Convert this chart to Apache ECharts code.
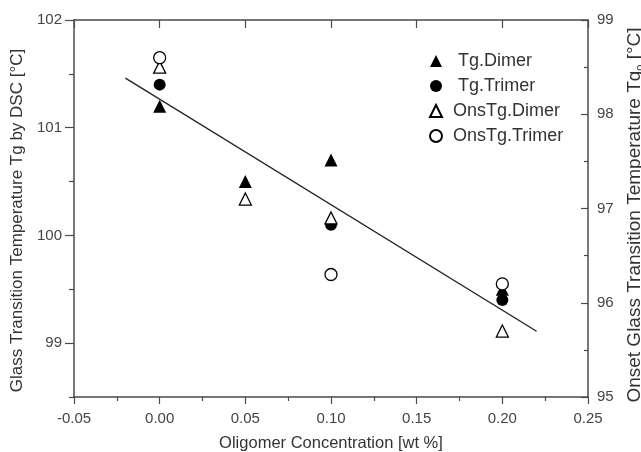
<!DOCTYPE html>
<html>
<head>
<meta charset="utf-8">
<script src="https://cdn.jsdelivr.net/npm/echarts@6/dist/echarts.min.js"></script>
<style>
  html, body { margin: 0; padding: 0; background: #fff; }
  #chart { width: 641px; height: 452px; }
</style>
</head>
<body>
<div id="chart"></div>
<script>
// concentrations [wt %]
const xTg = [0.00, 0.05, 0.10, 0.20];
const xTgTrimer = [0.00, 0.10, 0.20];
// Tg by DSC (left axis)
const tgDimer = [101.2, 100.5, 100.7, 99.5];
const tgTrimer = [101.4, 100.1, 99.4];
// onset Tg (right axis)
const onsTgDimer = [98.5, 97.1, 96.9, 95.7];
const onsTgTrimer = [98.6, 96.3, 96.2];
// linear fit, left axis
const fitLine = [[-0.02, 101.46], [0.22, 99.11]];

const leftTicks = [99, 100, 101, 102];
const leftMinor = [98.5, 99.5, 100.5, 101.5];

const FONT = 'Liberation Sans, Arial, sans-serif';
const AXIS = '#4a4a4a';

const pairs = (xs, ys) => xs.map((x, i) => [x, ys[i]]);

const chart = echarts.init(document.getElementById('chart'));

chart.setOption({
  animation: false,
  textStyle: { fontFamily: FONT },
  grid: { left: 74, top: 20, right: 53, bottom: 55, containLabel: false, outerBoundsMode: 'none' },
  legend: {
    orient: 'vertical',
    left: 424,
    top: 47,
    itemWidth: 12,
    itemHeight: 12,
    itemGap: 7,
    formatter: name => name.startsWith('Tg') ? ' ' + name : name,
    textStyle: { fontSize: 18, color: '#333', fontFamily: FONT, lineHeight: 18, padding: [0, 0, 0, 6] },
    data: ['Tg.Dimer', 'Tg.Trimer', 'OnsTg.Dimer', 'OnsTg.Trimer']
  },
  xAxis: [{
    type: 'value',
    position: 'bottom',
    min: -0.05, max: 0.25, interval: 0.05,
    splitLine: { show: false },
    axisLine: { onZero: false, lineStyle: { color: AXIS, width: 1.5 } },
    axisTick: { length: 7, lineStyle: { color: AXIS, width: 1.2 } },
    minorTick: { show: true, splitNumber: 2, length: 4, lineStyle: { color: AXIS, width: 1.2 } },
    axisLabel: { fontSize: 15, color: '#444', margin: 14, formatter: v => v.toFixed(2) },
    name: 'Oligomer Concentration [wt %]',
    nameLocation: 'middle',
    nameGap: 38,
    nameTextStyle: { fontSize: 16.5, color: '#333' }
  }, {
    type: 'value',
    position: 'top',
    min: -0.05, max: 0.25, interval: 0.05,
    splitLine: { show: false },
    axisLine: { onZero: false, lineStyle: { color: AXIS, width: 1.5 } },
    axisTick: { inside: true, length: 8, lineStyle: { color: AXIS, width: 1.2 } },
    axisLabel: { show: false }
  }],
  yAxis: [{
    type: 'value',
    position: 'left',
    min: 98.5, max: 102,
    splitLine: { show: false },
    axisLine: { show: true, onZero: false, lineStyle: { color: AXIS, width: 1.5 } },
    axisTick: { show: true, length: 9, customValues: leftTicks, lineStyle: { color: AXIS, width: 1.2 } },
    axisLabel: { fontSize: 15, color: '#444', margin: 12, customValues: leftTicks },
    name: 'Glass Transition Temperature Tg by DSC [°C]',
    nameLocation: 'middle',
    nameGap: 47,
    nameTextStyle: { fontSize: 17, color: '#333', padding: [0, 24, 0, 0] }
  }, {
    type: 'value',
    position: 'right',
    min: 95, max: 99, interval: 1,
    splitLine: { show: false },
    axisLine: { show: true, onZero: false, lineStyle: { color: AXIS, width: 1.5 } },
    axisTick: { show: true, inside: true, length: 7, lineStyle: { color: AXIS, width: 1.2 } },
    minorTick: { show: true, splitNumber: 2, length: 4, lineStyle: { color: AXIS, width: 1.2 } },
    axisLabel: { fontSize: 15, color: '#444', margin: 9 },
    name: '{t|Onset Glass Transition Temperature Tg}{s|o}{t| [°C]}',
    nameLocation: 'middle',
    nameGap: 36,
    nameTextStyle: {
      padding: [0, 13, 0, 0],
      rich: {
        t: { fontSize: 19, color: '#333', fontFamily: FONT },
        s: { fontSize: 11, color: '#333', fontFamily: FONT, padding: [10, 0, 0, 0] }
      }
    }
  }, {
    // minor ticks of the left axis
    type: 'value',
    position: 'left',
    min: 98.5, max: 102,
    splitLine: { show: false },
    axisLine: { show: false, onZero: false },
    axisTick: { show: true, length: 5, customValues: leftMinor, lineStyle: { color: AXIS, width: 1.2 } },
    axisLabel: { show: false }
  }],
  series: [{
    name: 'Tg.Dimer',
    type: 'scatter',
    yAxisIndex: 0,
    symbol: 'triangle',
    symbolSize: 13,
    itemStyle: { color: '#000', opacity: 1 },
    data: pairs(xTg, tgDimer)
  }, {
    name: 'Tg.Trimer',
    type: 'scatter',
    yAxisIndex: 0,
    symbol: 'circle',
    symbolSize: 12,
    itemStyle: { color: '#000', opacity: 1 },
    data: pairs(xTgTrimer, tgTrimer)
  }, {
    name: 'OnsTg.Dimer',
    type: 'scatter',
    yAxisIndex: 1,
    symbol: 'triangle',
    symbolSize: 12,
    itemStyle: { color: '#fff', borderColor: '#000', borderWidth: 1.3, opacity: 1 },
    data: pairs(xTg, onsTgDimer)
  }, {
    name: 'OnsTg.Trimer',
    type: 'scatter',
    yAxisIndex: 1,
    symbol: 'circle',
    symbolSize: 12,
    itemStyle: { color: '#fff', borderColor: '#000', borderWidth: 1.3, opacity: 1 },
    data: pairs(xTgTrimer, onsTgTrimer)
  }, {
    name: 'fit',
    type: 'line',
    yAxisIndex: 0,
    showSymbol: false,
    silent: true,
    lineStyle: { color: '#222', width: 1.3 },
    data: fitLine
  }]
});

window.addEventListener('resize', () => chart.resize());
</script>
</body>
</html>
